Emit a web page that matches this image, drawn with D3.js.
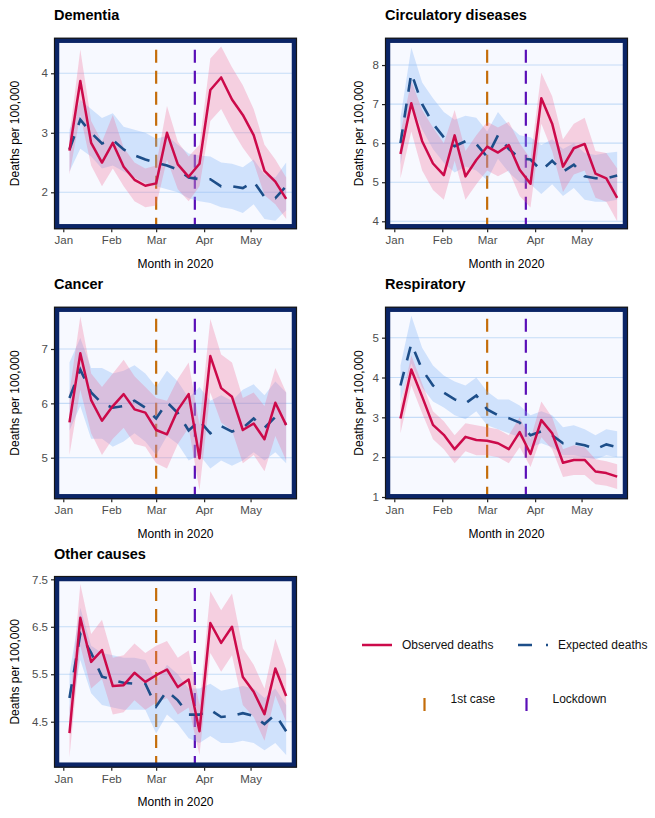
<!DOCTYPE html>
<html>
<head>
<meta charset="utf-8">
<script src="https://cdn.jsdelivr.net/npm/d3@7"></script>
<style>
  body { margin: 0; background: #fff; }
  svg { display: block; font-family: "Liberation Sans", Arial, sans-serif; }
</style>
</head>
<body>
<svg id="chart" width="655" height="818"></svg>
<script>
// weekly points (week ending)
var weekDates = ["2020-01-05", "2020-01-12", "2020-01-19", "2020-01-26", "2020-02-02", "2020-02-09",
  "2020-02-16", "2020-02-23", "2020-03-01", "2020-03-08", "2020-03-15", "2020-03-22", "2020-03-29",
  "2020-04-05", "2020-04-12", "2020-04-19", "2020-04-26", "2020-05-03", "2020-05-10", "2020-05-17", "2020-05-24"];
var eventDates = ["2020-03-01", "2020-03-26"];
var eventNames = ["1st case", "Lockdown"];

var causes = ["Dementia", "Circulatory diseases", "Cancer", "Respiratory", "Other causes"];

var demObs   = [2.70, 3.87, 2.83, 2.50, 2.83, 2.43, 2.21, 2.11, 2.15, 3.00, 2.47, 2.26, 2.48, 3.72, 3.93, 3.56, 3.30, 2.96, 2.36, 2.18, 1.89];
var demObsLo = [2.30, 3.30, 2.45, 2.10, 2.40, 2.10, 1.85, 1.75, 1.78, 2.55, 2.05, 1.85, 2.10, 3.20, 3.40, 3.05, 2.75, 2.50, 1.95, 1.80, 1.55];
var demObsHi = [2.95, 4.40, 3.20, 2.85, 3.30, 2.75, 2.50, 2.40, 2.45, 3.45, 2.85, 2.60, 2.80, 4.25, 4.45, 4.10, 3.80, 3.40, 2.80, 2.55, 2.25];
var demExp   = [2.72, 3.22, 3.00, 2.82, 2.88, 2.72, 2.62, 2.55, 2.50, 2.45, 2.38, 2.25, 2.22, 2.22, 2.10, 2.10, 2.07, 2.18, 1.92, 1.90, 2.10];
var demExpLo = [2.35, 2.73, 2.60, 2.40, 2.45, 2.35, 2.25, 2.15, 2.10, 2.05, 2.00, 1.90, 1.85, 1.82, 1.75, 1.72, 1.65, 1.80, 1.55, 1.52, 1.70];
var demExpHi = [3.05, 3.55, 3.40, 3.25, 3.33, 3.10, 3.05, 3.00, 2.90, 2.95, 2.80, 2.65, 2.62, 2.60, 2.50, 2.48, 2.42, 2.55, 2.30, 2.25, 2.50];

var cirObs   = [5.72, 7.02, 6.05, 5.48, 5.18, 6.20, 5.15, 5.57, 5.91, 5.76, 5.95, 5.32, 4.96, 7.15, 6.50, 5.40, 5.87, 5.98, 5.22, 5.10, 4.60];
var cirObsLo = [5.10, 6.30, 5.30, 4.80, 4.55, 5.55, 4.55, 4.95, 5.30, 5.15, 5.30, 4.65, 4.35, 6.50, 5.80, 4.75, 5.20, 5.30, 4.60, 4.50, 4.00];
var cirObsHi = [6.25, 7.60, 6.85, 6.40, 6.00, 6.85, 5.80, 6.20, 6.55, 6.40, 6.55, 6.00, 5.60, 7.80, 7.20, 6.10, 6.50, 6.65, 5.80, 5.75, 5.35];
var cirExp   = [6.00, 7.80, 7.00, 6.50, 6.15, 5.92, 6.05, 5.98, 5.65, 6.20, 5.85, 5.62, 5.58, 5.30, 5.55, 5.27, 5.45, 5.15, 5.10, 5.10, 5.17];
var cirExpLo = [5.45, 7.00, 6.35, 5.85, 5.50, 5.25, 5.40, 5.30, 5.05, 5.60, 5.25, 5.00, 4.95, 4.70, 4.95, 4.65, 4.85, 4.55, 4.50, 4.50, 4.55];
var cirExpHi = [6.65, 8.45, 7.55, 7.15, 6.80, 6.60, 6.70, 6.65, 6.30, 6.80, 6.45, 6.20, 6.15, 5.95, 6.10, 5.85, 6.00, 5.75, 5.70, 5.75, 5.78];

var canObs   = [5.65, 6.92, 6.06, 5.68, 5.95, 6.17, 5.89, 5.83, 5.51, 5.43, 5.88, 6.17, 4.99, 6.87, 6.28, 6.12, 5.51, 5.63, 5.34, 6.01, 5.60];
var canObsLo = [5.05, 6.25, 5.45, 5.05, 5.35, 5.55, 5.25, 5.20, 4.90, 4.80, 5.25, 5.55, 4.40, 6.20, 5.65, 5.50, 4.90, 5.05, 4.75, 5.40, 4.95];
var canObsHi = [6.20, 7.60, 6.55, 6.30, 6.55, 6.80, 6.50, 6.30, 6.10, 6.05, 6.45, 6.75, 5.60, 7.55, 6.90, 6.75, 6.10, 6.20, 5.95, 6.65, 6.20];
var canExp   = [6.10, 6.62, 6.20, 6.00, 5.92, 5.95, 6.05, 5.92, 5.72, 6.02, 5.82, 5.50, 5.68, 5.45, 5.58, 5.48, 5.55, 5.72, 5.55, 5.75, 5.62];
var canExpLo = [5.50, 5.95, 5.35, 5.35, 5.20, 5.30, 5.45, 5.30, 5.05, 5.40, 5.25, 4.95, 5.05, 4.80, 4.95, 4.85, 4.95, 5.10, 4.95, 5.10, 4.90];
var canExpHi = [6.75, 7.20, 6.65, 6.65, 6.55, 6.60, 6.70, 6.55, 6.30, 6.60, 6.40, 6.10, 6.30, 6.05, 6.15, 6.05, 6.25, 6.35, 6.15, 6.40, 6.20];

var resObs   = [2.97, 4.20, 3.52, 2.81, 2.56, 2.20, 2.51, 2.43, 2.41, 2.35, 2.20, 2.63, 2.08, 2.93, 2.60, 1.86, 1.93, 1.93, 1.64, 1.60, 1.51];
var resObsLo = [2.60, 3.80, 3.10, 2.45, 2.20, 1.85, 2.15, 2.05, 2.05, 2.00, 1.85, 2.25, 1.75, 2.50, 2.20, 1.50, 1.55, 1.55, 1.32, 1.28, 1.20];
var resObsHi = [3.30, 4.55, 3.85, 3.15, 2.90, 2.55, 2.85, 2.80, 2.75, 2.70, 2.55, 3.00, 2.45, 3.40, 3.00, 2.20, 2.30, 2.25, 1.95, 1.90, 1.82];
var resExp   = [3.80, 4.85, 4.20, 3.80, 3.62, 3.45, 3.35, 3.55, 3.20, 3.05, 2.98, 2.87, 2.55, 2.65, 2.55, 2.35, 2.35, 2.30, 2.20, 2.32, 2.25];
var resExpLo = [3.40, 4.35, 3.75, 3.40, 3.25, 3.05, 2.95, 3.15, 2.80, 2.70, 2.60, 2.50, 2.25, 2.35, 2.25, 2.05, 2.05, 2.00, 1.95, 2.05, 2.00];
var resExpHi = [4.30, 5.55, 4.75, 4.30, 4.05, 3.90, 3.80, 4.00, 3.65, 3.45, 3.45, 3.30, 3.05, 3.15, 3.05, 2.75, 2.80, 2.70, 2.55, 2.70, 2.65];

var othObs   = [4.26, 6.69, 5.76, 6.01, 5.25, 5.27, 5.53, 5.34, 5.48, 5.60, 5.23, 5.39, 4.30, 6.58, 6.16, 6.50, 5.44, 5.13, 4.66, 5.62, 5.04];
var othObsLo = [3.75, 6.10, 5.20, 5.40, 4.65, 4.70, 4.95, 4.75, 4.90, 5.00, 4.65, 4.80, 3.80, 5.95, 5.55, 5.90, 4.85, 4.60, 4.10, 5.05, 4.50];
var othObsHi = [4.75, 7.40, 6.35, 6.65, 5.85, 5.90, 6.15, 5.95, 6.10, 6.20, 5.85, 6.00, 4.85, 7.25, 6.85, 7.20, 6.05, 5.70, 5.20, 6.25, 5.60];
var othExp   = [5.00, 6.35, 5.95, 5.45, 5.38, 5.32, 5.30, 5.30, 4.82, 5.15, 4.95, 4.65, 4.65, 4.75, 4.60, 4.62, 4.68, 4.62, 4.45, 4.65, 4.30];
var othExpLo = [4.50, 5.80, 5.10, 4.85, 4.80, 4.75, 4.75, 4.75, 4.25, 4.65, 4.45, 4.15, 4.05, 4.20, 4.05, 4.05, 4.10, 4.05, 3.90, 4.05, 3.80];
var othExpHi = [5.50, 6.90, 6.10, 5.95, 5.90, 5.85, 5.85, 5.80, 5.35, 5.70, 5.50, 5.20, 5.20, 5.30, 5.15, 5.20, 5.25, 5.20, 5.00, 5.20, 4.85];

var demTicks = [2, 3, 4];
var cirTicks = [4, 5, 6, 7, 8];
var canTicks = [5, 6, 7];
var resTicks = [1, 2, 3, 4, 5];
var othTicks = [4.5, 5.5, 6.5, 7.5];
var monthTicks = ["2020-01-01", "2020-02-01", "2020-03-01", "2020-04-01", "2020-05-01"];

var colors = {
  obs: "#cc0a4a", obsBand: "#f2668f",
  exp: "#1d4e89", expBand: "#7fb2f5",
  events: ["#c46d0a", "#5a0fb8"],
  border: "#0b2566", panel: "#f7f9ff", grid: "#c5dcf7"
};

var parse = d3.timeParse("%Y-%m-%d");
var dates = weekDates.map(parse);

var panels = [
  { title: causes[0], obs: demObs, lo: demObsLo, hi: demObsHi, exp: demExp, elo: demExpLo, ehi: demExpHi, ticks: demTicks, ylim: [1.378, 4.598], col: 0, row: 0 },
  { title: causes[1], obs: cirObs, lo: cirObsLo, hi: cirObsHi, exp: cirExp, elo: cirExpLo, ehi: cirExpHi, ticks: cirTicks, ylim: [3.795, 8.70], col: 1, row: 0 },
  { title: causes[2], obs: canObs, lo: canObsLo, hi: canObsHi, exp: canExp, elo: canExpLo, ehi: canExpHi, ticks: canTicks, ylim: [4.235, 7.778], col: 0, row: 1 },
  { title: causes[3], obs: resObs, lo: resObsLo, hi: resObsHi, exp: resExp, elo: resExpLo, ehi: resExpHi, ticks: resTicks, ylim: [0.942, 5.778], col: 1, row: 1 },
  { title: causes[4], obs: othObs, lo: othObsLo, hi: othObsHi, exp: othExp, elo: othExpLo, ehi: othExpHi, ticks: othTicks, ylim: [3.531, 7.57], col: 0, row: 2 }
];

var colX = [[54, 297], [385, 628]];
var rowY = [[37.7, 229.3], [306.7, 499.3], [576, 767.7]];
var yTitleOffset = [39, 26];

var svg = d3.select("#chart");

var drawPanel = function drawPanel(p, k) {
  var x0 = colX[p.col][0], x1 = colX[p.col][1];
  var y0 = rowY[p.row][0], y1 = rowY[p.row][1];
  var g = svg.append("g");

  var x = d3.scaleTime()
    .domain([parse("2019-12-26"), parse("2020-05-31")])
    .range([x0, x1]);
  var y = d3.scaleLinear().domain(p.ylim).range([y1, y0]);

  // title
  g.append("text")
    .attr("x", x0)
    .attr("y", y0 - 17.5)
    .attr("font-size", 14.5)
    .attr("font-weight", "bold")
    .attr("fill", "#000")
    .text(p.title);

  var clipId = "clip" + k;
  svg.append("clipPath").attr("id", clipId)
    .append("rect")
    .attr("x", x0 + 2.5).attr("y", y0 + 2.5)
    .attr("width", x1 - x0 - 5).attr("height", y1 - y0 - 5);

  g.append("rect")
    .attr("x", x0).attr("y", y0)
    .attr("width", x1 - x0).attr("height", y1 - y0)
    .attr("fill", colors.panel);

  var inner = g.append("g").attr("clip-path", "url(#" + clipId + ")");

  inner.selectAll("line.grid")
    .data(p.ticks)
    .enter()
    .append("line")
    .attr("class", "grid")
    .attr("x1", x0).attr("x2", x1)
    .attr("y1", function(d) { return y(d); })
    .attr("y2", function(d) { return y(d); })
    .attr("stroke", colors.grid)
    .attr("stroke-width", 1.1);

  inner.selectAll("line.event")
    .data(eventDates)
    .enter()
    .append("line")
    .attr("class", "event")
    .attr("x1", function(d) { return x(parse(d)); })
    .attr("x2", function(d) { return x(parse(d)); })
    .attr("y1", y0 + 12)
    .attr("y2", y1)
    .attr("stroke", function(d, i) { return colors.events[i]; })
    .attr("stroke-width", 2.2)
    .attr("stroke-dasharray", "13,8");

  var band = function(lo, hi) {
    return d3.area()
      .x(function(d, i) { return x(dates[i]); })
      .y0(function(d, i) { return y(lo[i]); })
      .y1(function(d, i) { return y(hi[i]); })(dates);
  };
  var line = function(vals) {
    return d3.line()
      .x(function(d, i) { return x(dates[i]); })
      .y(function(d, i) { return y(vals[i]); })(dates);
  };

  inner.append("path").attr("d", band(p.elo, p.ehi))
    .attr("fill", colors.expBand).attr("fill-opacity", 0.32);
  inner.append("path").attr("d", band(p.lo, p.hi))
    .attr("fill", colors.obsBand).attr("fill-opacity", 0.28);
  inner.append("path").attr("d", line(p.exp))
    .attr("fill", "none")
    .attr("stroke", colors.exp)
    .attr("stroke-width", 2.6)
    .attr("stroke-dasharray", "14,12");
  inner.append("path").attr("d", line(p.obs))
    .attr("fill", "none")
    .attr("stroke", colors.obs)
    .attr("stroke-width", 2.5)
    .attr("stroke-linejoin", "round");

  // border: navy band with a dark outer edge
  g.append("rect")
    .attr("x", x0 + 2.75).attr("y", y0 + 2.75)
    .attr("width", x1 - x0 - 5.5).attr("height", y1 - y0 - 5.5)
    .attr("fill", "none")
    .attr("stroke", colors.border)
    .attr("stroke-width", 5);
  g.append("rect")
    .attr("x", x0 + 0.5).attr("y", y0 + 0.5)
    .attr("width", x1 - x0 - 1).attr("height", y1 - y0 - 1)
    .attr("fill", "none")
    .attr("stroke", "#161616")
    .attr("stroke-width", 1.2);

  // y axis
  var yAxis = g.append("g").attr("transform", "translate(" + x0 + ",0)")
    .call(d3.axisLeft(y).tickValues(p.ticks).tickSize(3).tickPadding(3)
      .tickFormat(function(d) { return String(d); }));
  yAxis.select(".domain").remove();
  yAxis.selectAll(".tick line").attr("stroke", "#222").attr("stroke-width", 1.2);
  yAxis.selectAll(".tick text")
    .attr("fill", "#4d4d4d")
    .attr("font-size", 11.5)
    .attr("font-family", "Liberation Sans, Arial, sans-serif");

  // x axis
  var xAxis = g.append("g").attr("transform", "translate(0," + y1 + ")")
    .call(d3.axisBottom(x).tickValues(monthTicks.map(parse)).tickSize(3).tickPadding(4)
      .tickFormat(d3.timeFormat("%b")));
  xAxis.select(".domain").remove();
  xAxis.selectAll(".tick line").attr("stroke", "#222").attr("stroke-width", 1.2);
  xAxis.selectAll(".tick text")
    .attr("fill", "#4d4d4d")
    .attr("font-size", 11.5)
    .attr("font-family", "Liberation Sans, Arial, sans-serif");

  g.append("text")
    .attr("x", (x0 + x1) / 2)
    .attr("y", y1 + 38.5)
    .attr("text-anchor", "middle")
    .attr("font-size", 12)
    .attr("fill", "#000")
    .text("Month in 2020");

  var ty = (y0 + y1) / 2;
  var tx = x0 - yTitleOffset[p.col];
  g.append("text")
    .attr("transform", "translate(" + tx + "," + ty + ") rotate(-90)")
    .attr("text-anchor", "middle")
    .attr("dy", "0.35em")
    .attr("font-size", 12)
    .attr("fill", "#000")
    .text("Deaths per 100,000");
};

panels.forEach(drawPanel);

// legend
var legend = svg.append("g");
var seriesKeys = [
  { label: "Observed deaths", color: colors.obs, dash: null, x: 362, tx: 402 },
  { label: "Expected deaths", color: colors.exp, dash: "14,14", x: 518, tx: 558 }
];
seriesKeys.forEach(function(s) {
  legend.append("line")
    .attr("x1", s.x).attr("x2", s.x + 30)
    .attr("y1", 645).attr("y2", 645)
    .attr("stroke", s.color)
    .attr("stroke-width", 2.5)
    .attr("stroke-dasharray", s.dash);
  legend.append("text")
    .attr("x", s.tx).attr("y", 645)
    .attr("dy", "0.35em")
    .attr("font-size", 12)
    .attr("fill", "#111")
    .text(s.label);
});
var eventKeys = [424.5, 526.5];
eventKeys.forEach(function(kx, i) {
  legend.append("line")
    .attr("x1", kx).attr("x2", kx)
    .attr("y1", 698).attr("y2", 711)
    .attr("stroke", colors.events[i])
    .attr("stroke-width", 2.2);
  legend.append("text")
    .attr("x", kx + 26).attr("y", 699)
    .attr("dy", "0.35em")
    .attr("font-size", 12)
    .attr("fill", "#111")
    .text(eventNames[i]);
});
</script>
</body>
</html>
